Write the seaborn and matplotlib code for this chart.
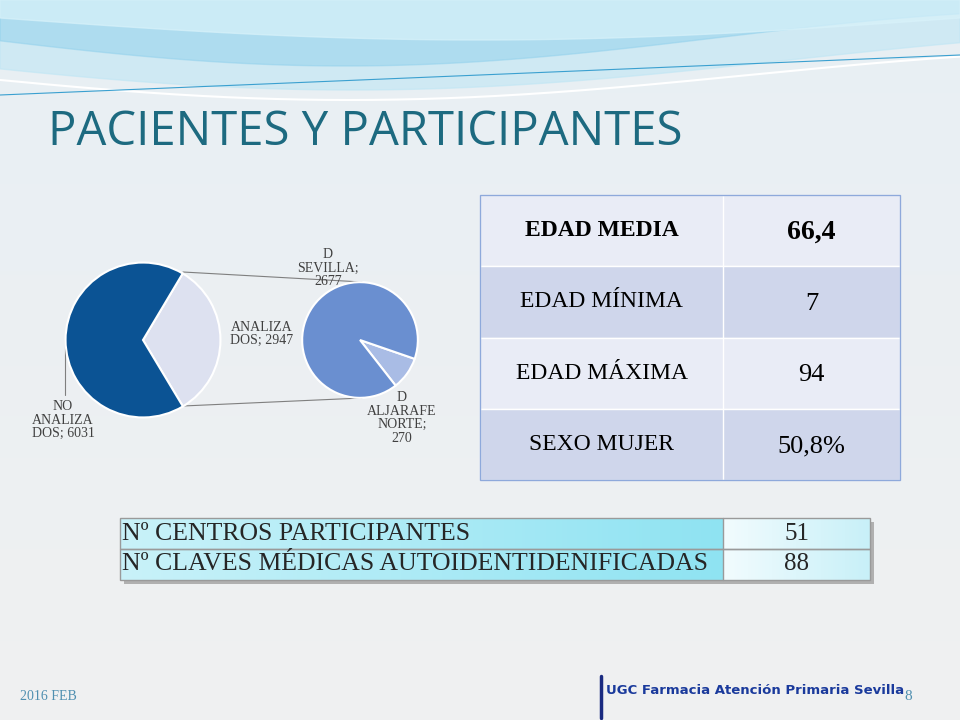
import numpy as np
import matplotlib.pyplot as plt
import seaborn as sns
from matplotlib.lines import Line2D

sns.set_theme(style="white")
plt.rcParams["font.family"] = ["Liberation Serif", "DejaVu Serif"]

# data
main_labels = ["ANALIZA\nDOS; 2947", "NO\nANALIZA\nDOS; 6031"]
main_values = [2947, 6031]
sub_labels = ["D\nALJARAFE\nNORTE;\n270", "D\nSEVILLA;\n2677"]
sub_values = [270, 2677]

stat_names = ["EDAD MEDIA", "EDAD MÍNIMA", "EDAD MÁXIMA", "SEXO MUJER"]
stat_values = ["66,4", "7", "94", "50,8%"]

centre_names = ["Nº CENTROS PARTICIPANTES", "Nº CLAVES MÉDICAS AUTOIDENTIDENIFICADAS"]
centre_values = ["51", "88"]

W, H = 960, 720
fig = plt.figure(figsize=(9.6, 7.2), dpi=100)

# background in pixel coords
bg = fig.add_axes([0, 0, 1, 1])
grad = np.linspace(0, 1, 256).reshape(-1, 1)
bg.imshow(grad, extent=[0, W, H, 0], cmap=sns.light_palette("#e8eff4", as_cmap=True, reverse=True),
          aspect="auto", zorder=0)
x = np.linspace(0, W, 400)
bg.fill_between(x, 0, 60 + 30 * np.sin(x / W * np.pi * 1.1 + 0.3), color="#bfe6f4", alpha=0.6, zorder=1)
bg.fill_between(x, 0, 38 + 28 * np.sin(x / W * np.pi * 1.3 + 0.1), color="#8fd0ec", alpha=0.5, zorder=1)
bg.fill_between(x, 0, 18 + 22 * np.sin(x / W * np.pi * 1.0), color="#d8f2fa", alpha=0.7, zorder=1)
bg.plot(x, 75 + 25 * np.sin(x / W * np.pi * 1.2 + 0.2), color="#ffffff", lw=1.5, zorder=2)
bg.plot(x, 95 - 40 * (x / W), color="#3aa0d0", lw=0.8, zorder=2)

bg.text(48, 132, "PACIENTES Y PARTICIPANTES", fontsize=34, color="#1d6a80",
        family=["Open Sans", "DejaVu Sans"], va="center", ha="left", zorder=3)

# connector lines
bg.add_line(Line2D([183, 362], [272, 282], color="#7f7f7f", lw=0.8, zorder=3))
bg.add_line(Line2D([183, 362], [406, 398], color="#7f7f7f", lw=0.8, zorder=3))
bg.add_line(Line2D([65, 65], [340, 395], color="#7f7f7f", lw=0.8, zorder=3))


def px_axes(cx, cy, r):
    ax = fig.add_axes([(cx - r) / W, (H - cy - r) / H, 2 * r / W, 2 * r / H])
    return ax


ax1 = px_axes(143, 340, 79)
ax1.pie(main_values, colors=["#dde1f0", "#0b5394"], startangle=-59, counterclock=True,
        wedgeprops=dict(edgecolor="white", linewidth=1.5))
ax1.set_xlim(-1.02, 1.02)
ax1.set_ylim(-1.02, 1.02)
ax1.set_aspect("equal")

ax2 = px_axes(360, 340, 59)
ax2.pie(sub_values, colors=["#a9bce5", "#6a8fd0"], startangle=-52, counterclock=True,
        wedgeprops=dict(edgecolor="white", linewidth=1.5))
ax2.set_xlim(-1.02, 1.02)
ax2.set_ylim(-1.02, 1.02)
ax2.set_aspect("equal")

lab_kw = dict(fontsize=10, color="#404040", ha="center", va="center", zorder=4, linespacing=1.05)
bg.text(262, 334, main_labels[0], **lab_kw)
bg.text(63, 420, main_labels[1], **lab_kw)
bg.text(402, 418, sub_labels[0], **lab_kw)
bg.text(328, 268, sub_labels[1], **lab_kw)

# stats table
x0, x1, x2 = 480, 723, 900
y0, rh = 195, 71.25
for i, (n, v) in enumerate(zip(stat_names, stat_values)):
    top = y0 + i * rh
    col = "#e9ecf6" if i % 2 == 0 else "#cfd6eb"
    bg.add_patch(plt.Rectangle((x0, top), x2 - x0, rh, facecolor=col, edgecolor="white", lw=1, zorder=3))
    bg.add_line(Line2D([x1, x1], [top, top + rh], color="white", lw=1, zorder=4))
    bold = "bold" if i == 0 else "normal"
    bg.text((x0 + x1) / 2, top + rh / 2, n, fontsize=17, ha="center", va="center",
            weight=bold, color="black", zorder=5)
    bg.text((x1 + x2) / 2, top + rh / 2 + 2, v, fontsize=20 if i == 0 else 19, ha="center",
            va="center", weight=bold, color="black", zorder=5)
bg.add_patch(plt.Rectangle((x0, y0), x2 - x0, 4 * rh, facecolor="none", edgecolor="#8ea9db", lw=1, zorder=6))

# centres table
cx0, cx1, cx2 = 120, 723, 870
cy0, crh = 518, 31
cyan = np.linspace(0, 1, 256).reshape(1, -1)
bg.add_patch(plt.Rectangle((cx0 + 4, cy0 + 4), cx2 - cx0, 2 * crh, facecolor="#b0b0b0", edgecolor="none", zorder=2))
bg.imshow(cyan, extent=[cx0, cx1, cy0 + 2 * crh, cy0], aspect="auto", zorder=3,
          cmap=sns.blend_palette(["#c9f2f9", "#8fe3f2"], as_cmap=True))
bg.imshow(cyan, extent=[cx1, cx2, cy0 + 2 * crh, cy0], aspect="auto", zorder=3,
          cmap=sns.blend_palette(["#f2fcfe", "#c8f0f8"], as_cmap=True))
for i, (n, v) in enumerate(zip(centre_names, centre_values)):
    top = cy0 + i * crh
    bg.add_patch(plt.Rectangle((cx0, top), cx2 - cx0, crh, facecolor="none", edgecolor="#9a9a9a", lw=1, zorder=4))
    bg.text(cx0 + 2, top + crh / 2, n, fontsize=18.5, ha="left", va="center", zorder=5)
    bg.text((cx1 + cx2) / 2, top + crh / 2, v, fontsize=18, ha="center", va="center", zorder=5)
bg.add_line(Line2D([cx1, cx1], [cy0, cy0 + 2 * crh], color="#9a9a9a", lw=1, zorder=4))

# footer
bg.text(20, 697, "2016 FEB", fontsize=10, color="#4f8fb0", ha="left", va="center", zorder=5)
bg.text(908, 697, "8", fontsize=11, color="#4f8fb0", ha="center", va="center", zorder=5)
bg.add_line(Line2D([601, 601], [676, 718], color="#1a2a80", lw=2.5, zorder=5))
bg.text(606, 690, "UGC Farmacia Atención Primaria Sevilla", fontsize=9.5, weight="bold",
        color="#1a3a9c", family=["DejaVu Sans"], ha="left", va="center", zorder=5)

bg.set_xlim(0, W)
bg.set_ylim(H, 0)
bg.axis("off")

fig.savefig("out.png", dpi=100)
